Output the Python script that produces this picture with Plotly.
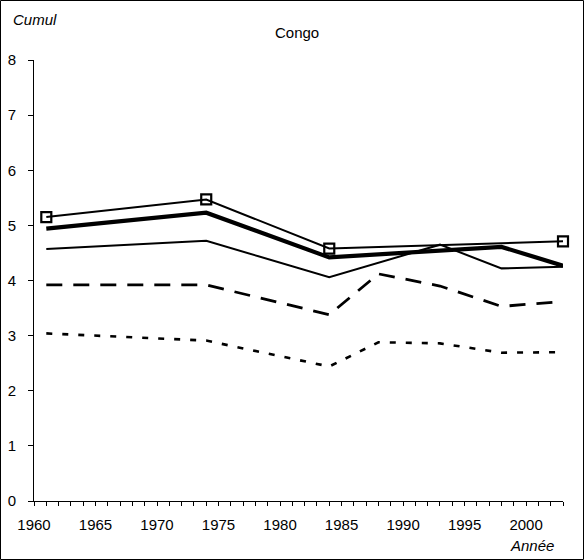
import plotly.graph_objects as go

years_sq = [1961, 1974, 1984, 2003]
vals_sq = [5.15, 5.47, 4.58, 4.71]

years_thick = [1961, 1974, 1984, 1998, 2003]
vals_thick = [4.94, 5.23, 4.42, 4.61, 4.27]

years_thin = [1961, 1974, 1984, 1993, 1998, 2003]
vals_thin = [4.57, 4.72, 4.06, 4.65, 4.22, 4.25]

years_dash = [1961, 1974, 1984, 1988, 1993, 1998, 2003]
vals_dash = [3.92, 3.92, 3.38, 4.12, 3.90, 3.53, 3.62]

years_dot = [1961, 1974, 1984, 1988, 1993, 1998, 2003]
vals_dot = [3.04, 2.91, 2.44, 2.88, 2.86, 2.69, 2.70]

x_ticks = [1960, 1965, 1970, 1975, 1980, 1985, 1990, 1995, 2000]
y_ticks = [0, 1, 2, 3, 4, 5, 6, 7, 8]

FONT = "Liberation Sans, Arial, sans-serif"

fig = go.Figure()
fig.add_trace(go.Scatter(x=years_dot, y=vals_dot, mode="lines",
                         line=dict(color="black", width=2.6, dash="6px,10px")))
fig.add_trace(go.Scatter(x=years_dash, y=vals_dash, mode="lines",
                         line=dict(color="black", width=2.8, dash="16px,11px")))
fig.add_trace(go.Scatter(x=years_thin, y=vals_thin, mode="lines",
                         line=dict(color="black", width=2)))
fig.add_trace(go.Scatter(x=years_thick, y=vals_thick, mode="lines",
                         line=dict(color="black", width=4.2)))
fig.add_trace(go.Scatter(x=years_sq, y=vals_sq, mode="lines+markers", cliponaxis=False,
                         line=dict(color="black", width=2),
                         marker=dict(symbol="square-open", size=10, color="black",
                                     line=dict(width=2.2, color="black"))))

W, H = 584, 560
L, R, T, B = 34, 21, 60, 59
pw, ph = W - L - R, H - T - B

fig.update_layout(
    width=W, height=H,
    margin=dict(l=L, r=R, t=T, b=B, autoexpand=False),
    paper_bgcolor="white", plot_bgcolor="white",
    showlegend=False,
    font=dict(family=FONT, size=15, color="black"),
    xaxis=dict(range=[1960, 2003], tickvals=x_ticks, ticks="outside", ticklen=4,
               tickcolor="black", showline=True, linecolor="black", linewidth=1,
               showgrid=False, zeroline=False, ticklabelstandoff=6,
               minor=dict(dtick=1, tick0=1960, ticks="outside", ticklen=4,
                          tickcolor="black", showgrid=False),
               tickfont=dict(size=15)),
    yaxis=dict(range=[0, 8], tickvals=y_ticks, ticks="outside", ticklen=5,
               tickcolor="black", showline=True, linecolor="black", linewidth=1,
               showgrid=False, zeroline=False, ticklabelstandoff=9,
               tickfont=dict(size=15)),
    annotations=[
        dict(text="Congo", xref="paper", yref="paper", x=(297 - L) / pw,
             y=(H - B - 32) / ph, showarrow=False, xanchor="center", yanchor="middle",
             font=dict(size=15)),
        dict(text="<i>Cumul</i>", xref="paper", yref="paper", x=(11 - L) / pw,
             y=(H - B - 20) / ph, showarrow=False, xanchor="left", yanchor="middle",
             font=dict(size=15)),
        dict(text="<i>Année</i>", xref="paper", yref="paper", x=(556 - L) / pw,
             y=(H - B - 545) / ph, showarrow=False, xanchor="right", yanchor="middle",
             font=dict(size=15)),
    ],
    shapes=[
        dict(type="rect", xref="paper", yref="paper",
             x0=(0.5 - L) / pw, x1=(W - 0.5 - L) / pw,
             y0=(H - B - (H - 0.5)) / ph, y1=(H - B - 0.5) / ph,
             line=dict(color="black", width=1), fillcolor="rgba(0,0,0,0)", layer="below"),
    ],
)

fig.write_html("out.html", config={"displayModeBar": False},
               post_script="document.body.style.margin='0';document.body.style.overflow='hidden';")
